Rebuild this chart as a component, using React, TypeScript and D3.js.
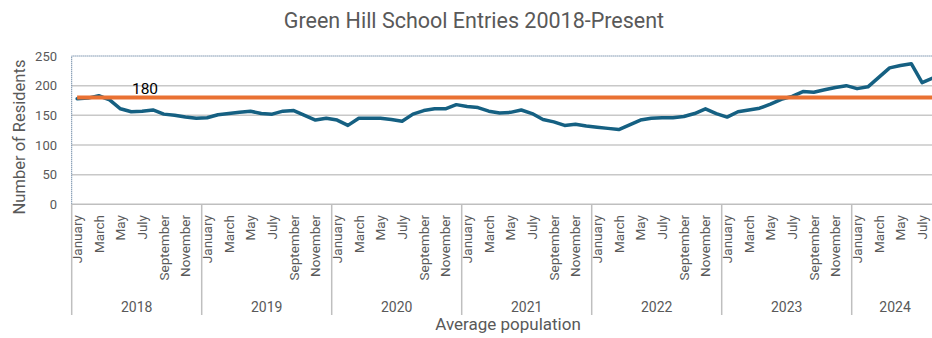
import React, { useRef, useEffect } from 'react';
import * as d3 from 'd3';

// chart values
const years = ['2018', '2019', '2020', '2021', '2022', '2023', '2024'];
const monthNames = ['January', 'February', 'March', 'April', 'May', 'June', 'July', 'August', 'September', 'October', 'November', 'December'];
const monthsPerYear = [12, 12, 12, 12, 12, 12, 8];

const residents = [
    178, 179, 183, 176, 161, 156, 157, 159, 152, 150, 147, 145,
    146, 151, 153, 155, 157, 153, 152, 157, 158, 150, 142, 145,
    142, 133, 145, 145, 145, 143, 140, 152, 158, 161, 161, 168,
    165, 163, 157, 154, 155, 159, 153, 143, 139, 133, 135, 132,
    130, 128, 126, 134, 142, 145, 146, 146, 148, 153, 161, 153,
    147, 156, 159, 162, 169, 177, 182, 190, 189, 193, 197, 200,
    195, 198, 214, 230, 234, 237, 205, 213,
];
const target = 180;
const yTicks = [0, 50, 100, 150, 200, 250];

const W = 932;
const H = 338;
const FONT = 'Roboto, "Open Sans", sans-serif';
const TEXT = '#595959';

const App: React.FC = () => {
    const svgRef = useRef<SVGSVGElement | null>(null);

    useEffect(() => {
        if (!svgRef.current) return;

        const svg = d3.select(svgRef.current);
        svg.selectAll('*').remove();

        // flat list of categories (year, month)
        const cats: { year: string; month: string; m: number; i: number }[] = [];
        years.forEach((yr, yi) => {
            for (let m = 0; m < monthsPerYear[yi]; m++) {
                cats.push({ year: yr, month: monthNames[m], m, i: cats.length });
            }
        });

        const left = 71.7;
        const step = 130 / 12;
        const top = 56;
        const bottom = 204.3;

        const x = d3.scaleBand<number>()
            .domain(cats.map(c => c.i))
            .range([left, left + cats.length * step])
            .padding(0);
        const cx = (i: number) => (x(i) ?? 0) + x.bandwidth() / 2;

        const y = d3.scaleLinear().domain([0, 250]).range([bottom, top]);

        // title
        svg.append('text')
            .attr('x', 474)
            .attr('y', 28)
            .attr('text-anchor', 'middle')
            .attr('font-family', FONT)
            .attr('font-size', 21.5)
            .attr('fill', TEXT)
            .text('Green Hill School Entries 20018-Present');

        // gridlines
        svg.append('g')
            .selectAll('line')
            .data(yTicks.filter(t => t > 0 && t < 250))
            .enter().append('line')
            .attr('x1', left)
            .attr('x2', W)
            .attr('y1', d => y(d))
            .attr('y2', d => y(d))
            .attr('stroke', '#c8c8c8')
            .attr('stroke-width', 1.5);

        // dotted plot-area border (top + left)
        svg.append('path')
            .attr('d', `M${left},${bottom}V${top}H${W}`)
            .attr('fill', 'none')
            .attr('stroke', '#3a5f86')
            .attr('stroke-width', 1)
            .attr('stroke-dasharray', '1,1');

        // y tick labels
        svg.append('g')
            .selectAll('text')
            .data(yTicks)
            .enter().append('text')
            .attr('x', 57)
            .attr('y', d => y(d))
            .attr('dy', '0.35em')
            .attr('text-anchor', 'end')
            .attr('font-family', FONT)
            .attr('font-size', 13)
            .attr('fill', TEXT)
            .text(d => d);

        // y axis title
        svg.append('text')
            .attr('transform', `translate(19,137) rotate(-90)`)
            .attr('text-anchor', 'middle')
            .attr('dy', '0.35em')
            .attr('font-family', FONT)
            .attr('font-size', 16.5)
            .attr('fill', TEXT)
            .text('Number of Residents');

        // x axis line
        svg.append('line')
            .attr('x1', left)
            .attr('x2', W)
            .attr('y1', bottom)
            .attr('y2', bottom)
            .attr('stroke', '#bfbfbf')
            .attr('stroke-width', 1.5);

        // year separators
        const yearStarts: number[] = [];
        let acc = 0;
        monthsPerYear.forEach(n => { yearStarts.push(acc); acc += n; });
        svg.append('g')
            .selectAll('line')
            .data(yearStarts)
            .enter().append('line')
            .attr('x1', d => x(d) ?? 0)
            .attr('x2', d => x(d) ?? 0)
            .attr('y1', bottom)
            .attr('y2', 315)
            .attr('stroke', '#bfbfbf')
            .attr('stroke-width', 1.5);

        // month labels (every other month)
        svg.append('g')
            .selectAll('text')
            .data(cats.filter(c => c.m % 2 === 0))
            .enter().append('text')
            .attr('transform', d => `translate(${cx(d.i)},215) rotate(-90)`)
            .attr('text-anchor', 'end')
            .attr('dy', '0.35em')
            .attr('font-family', FONT)
            .attr('font-size', 13.5)
            .attr('fill', TEXT)
            .text(d => d.month);

        // year labels
        svg.append('g')
            .selectAll('text')
            .data(years)
            .enter().append('text')
            .attr('x', (_, i) => (x(yearStarts[i]) ?? 0) + monthsPerYear[i] * step / 2)
            .attr('y', 311.5)
            .attr('text-anchor', 'middle')
            .attr('font-family', FONT)
            .attr('font-size', 14)
            .attr('fill', TEXT)
            .text(d => d);

        // x axis title
        svg.append('text')
            .attr('x', 508)
            .attr('y', 330)
            .attr('text-anchor', 'middle')
            .attr('font-family', FONT)
            .attr('font-size', 17)
            .attr('fill', TEXT)
            .text('Average population');

        // residents line
        const line = d3.line<number>()
            .x((_, i) => cx(i))
            .y(d => y(d));
        svg.append('path')
            .datum(residents)
            .attr('d', line)
            .attr('fill', 'none')
            .attr('stroke', '#156082')
            .attr('stroke-width', 3.5)
            .attr('stroke-linejoin', 'round')
            .attr('stroke-linecap', 'round');

        // target line
        svg.append('line')
            .attr('x1', cx(0))
            .attr('x2', W)
            .attr('y1', y(target))
            .attr('y2', y(target))
            .attr('stroke', '#e97132')
            .attr('stroke-width', 4);

        svg.append('text')
            .attr('x', 145)
            .attr('y', 93.5)
            .attr('text-anchor', 'middle')
            .attr('font-family', FONT)
            .attr('font-size', 15.5)
            .attr('fill', '#000')
            .text(target);
    }, []);

    return (
        <svg ref={svgRef} width={W} height={H}
            style={{ position: 'absolute', left: 0, top: 0, background: '#fff' }} />
    );
};

export default App;
